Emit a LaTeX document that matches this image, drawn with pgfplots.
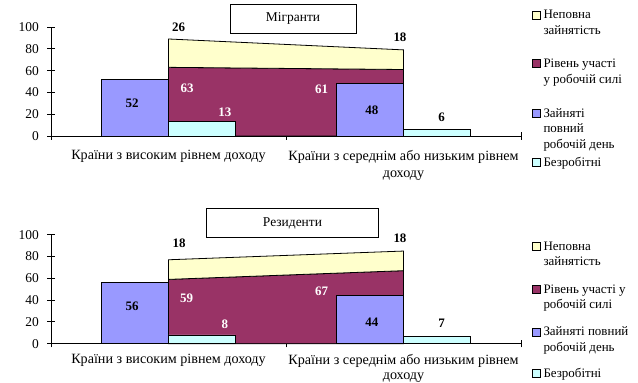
\documentclass[border=0pt]{standalone}
\usepackage{fontspec}
\setmainfont{Liberation Serif}
\usepackage{pgfplots}
\pgfplotsset{compat=1.18}
\definecolor{cmaroon}{HTML}{993366}
\definecolor{cyellow}{HTML}{FFFFCC}
\definecolor{cpurple}{HTML}{9999FF}
\definecolor{ccyan}{HTML}{CCFFFF}
\pgfplotsset{
  panel/.style 2 args={
    scale only axis, width=470bp, height=109bp,
    xmin=0, xmax=2, ymin=0, ymax=100, clip=false,
    axis x line*=bottom, axis y line*=left,
    axis line style={black, line width=0.8bp},
    /pgf/number format/assume math mode=true,
    ytick={0,20,...,100},
    yticklabel style={font=\fontsize{13.5}{16}\selectfont, xshift=-5bp},
    tick align=center, major tick length=7.5bp,
    tick style={black, line width=0.8bp},
    xtick={0,1,2}, xticklabels={},
    extra x ticks={0.5,1.5},
    extra x tick labels={{Країни з високим рівнем доходу},{Країни з середнім або низьким рівнем\\доходу}},
    extra x tick style={major tick length=0pt,
      xticklabel style={align=center, yshift=#1, font=\fontsize{14.2}{#2}\selectfont}},
  },
  area/.style={draw=black, line width=0.8bp, forget plot},
  bar/.style={ybar, bar width=0.285, bar shift=0pt, draw=black, line width=0.8bp, forget plot},
}
\tikzset{
  lab/.style={font=\bfseries\fontsize{13}{13}\selectfont, text=black},
  wlab/.style={font=\bfseries\fontsize{13}{13}\selectfont, text=white},
  ltxt/.style={anchor=base west, inner sep=0pt, font=\fontsize{13}{15.8}\selectfont},
  lkey/.style={draw=black, line width=0.8bp},
}
\newcommand{\lkey}[2]{\draw[lkey, fill=#1] (532bp,#2bp-4bp) rectangle (540bp,#2bp+4bp);}
\newcommand{\ltext}[2]{\node[ltxt] at (543.3bp,#1bp) {#2};}
\begin{document}
\begin{tikzpicture}
\path[use as bounding box] (0,0) rectangle (638bp,383bp);
% ---------- top panel: migrants ----------
\begin{axis}[panel={-11bp}{16.7}, at={(51bp,247bp)}, anchor=south west]
\addplot[area, fill=cmaroon, stack plots=y] coordinates {(0.5,63) (1.5,61)} \closedcycle;
\addplot[area, fill=cyellow, stack plots=y] coordinates {(0.5,26) (1.5,18)} \closedcycle;
\addplot[bar, fill=cpurple] coordinates {(0.3575,52) (1.3575,48)};
\addplot[bar, fill=ccyan] coordinates {(0.6425,13) (1.6425,6)};
\node[lab] at (axis cs:0.543,100) {26};
\node[lab] at (axis cs:1.485,90.8) {18};
\node[wlab] at (axis cs:0.579,44) {63};
\node[wlab] at (axis cs:1.152,42.8) {61};
\node[lab] at (axis cs:0.345,30) {52};
\node[wlab] at (axis cs:0.740,21.7) {13};
\node[lab] at (axis cs:1.365,23.2) {48};
\node[lab] at (axis cs:1.662,17.1) {6};
\end{axis}
% ---------- bottom panel: residents ----------
\begin{axis}[panel={-7bp}{15.5}, at={(51bp,39.3bp)}, anchor=south west]
\addplot[area, fill=cmaroon, stack plots=y] coordinates {(0.5,59) (1.5,67)} \closedcycle;
\addplot[area, fill=cyellow, stack plots=y] coordinates {(0.5,18) (1.5,18)} \closedcycle;
\addplot[bar, fill=cpurple] coordinates {(0.3575,56) (1.3575,44)};
\addplot[bar, fill=ccyan] coordinates {(0.6425,8) (1.6425,7)};
\node[lab] at (axis cs:0.545,92.1) {18};
\node[lab] at (axis cs:1.485,96.7) {18};
\node[wlab] at (axis cs:0.577,41.6) {59};
\node[wlab] at (axis cs:1.152,47.7) {67};
\node[lab] at (axis cs:0.345,34) {56};
\node[wlab] at (axis cs:0.740,17.8) {8};
\node[lab] at (axis cs:1.365,19.6) {44};
\node[lab] at (axis cs:1.662,18.7) {7};
\end{axis}
% ---------- panel titles ----------
\node[draw=black, fill=white, line width=1bp, minimum width=126bp, minimum height=29bp, inner sep=0pt,
  font=\fontsize{13.5}{16}\selectfont] at (293bp,364.2bp) {Мігранти};
\node[draw=black, fill=white, line width=1bp, minimum width=171.6bp, minimum height=28.7bp, inner sep=0pt,
  font=\fontsize{13.5}{16}\selectfont] at (292.5bp,159.7bp) {Резиденти};
% ---------- legends ----------
\lkey{cyellow}{368}
\ltext{364.2}{Неповна}
\ltext{348.2}{зайнятість}
\lkey{cmaroon}{319.7}
\ltext{315.9}{Рівень участі}
\ltext{299.2}{у робочій силі}
\lkey{cpurple}{269.7}
\ltext{265.9}{Зайняті}
\ltext{250.9}{повний}
\ltext{234.7}{робочій день}
\lkey{ccyan}{220.2}
\ltext{216.4}{Безробітні}
\lkey{cyellow}{136.3}
\ltext{132.5}{Неповна}
\ltext{117.7}{зайнятість}
\lkey{cmaroon}{93.5}
\ltext{89.7}{Рівень участі у}
\ltext{74.2}{робочій силі}
\lkey{cpurple}{51}
\ltext{47.2}{Зайняті повний}
\ltext{31.7}{робочій день}
\lkey{ccyan}{9.7}
\ltext{5.9}{Безробітні}
\end{tikzpicture}
\end{document}
